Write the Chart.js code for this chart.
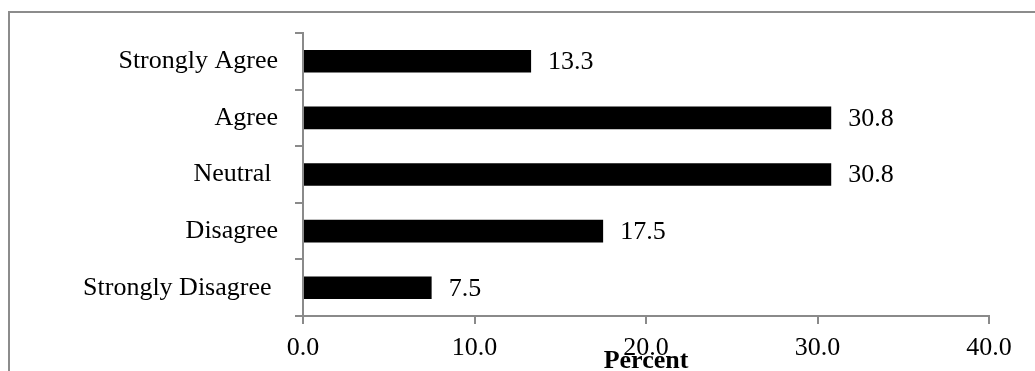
<!DOCTYPE html>
<html>
<head>
<meta charset="utf-8">
<script src="https://cdn.jsdelivr.net/npm/chart.js@4/dist/chart.umd.min.js"></script>
<style>
  html, body { margin: 0; padding: 0; background: #fff; overflow: hidden; }
  #frame {
    position: absolute; left: 8px; top: 11px; width: 1100px; height: 400px;
    border: 2px solid #8c8c8c;
  }
  #wrap { position: absolute; left: 0; top: 0; width: 1035px; height: 371px; }
</style>
</head>
<body>
<div id="frame"></div>
<div id="wrap"><canvas id="barChart"></canvas></div>
<script>
// responses, top to bottom as shown
const categories = ['Strongly Agree', 'Agree', 'Neutral ', 'Disagree', 'Strongly Disagree '];
const percents = [13.3, 30.8, 30.8, 17.5, 7.5];
const xTicks = [0, 10, 20, 30, 40];

const serif = '"Liberation Serif", "Times New Roman", serif';
const axisGray = '#8a8a8a';

// value labels to the right of each bar
const valueLabels = {
  id: 'valueLabels',
  afterDatasetsDraw(chart) {
    const ctx = chart.ctx;
    const meta = chart.getDatasetMeta(0);
    ctx.save();
    ctx.font = '26px ' + serif;
    ctx.fillStyle = '#000';
    ctx.textAlign = 'left';
    ctx.textBaseline = 'middle';
    meta.data.forEach((bar, i) => {
      ctx.fillText(percents[i].toFixed(1), bar.x + 17, bar.y + 1);
    });
    ctx.restore();
  },
};

new Chart(document.getElementById('barChart'), {
  type: 'bar',
  data: {
    labels: categories,
    datasets: [
      {
        label: 'Percent',
        data: percents,
        backgroundColor: '#000',
        borderWidth: 0,
        barPercentage: 0.4,
        categoryPercentage: 1.0,
      },
    ],
  },
  options: {
    indexAxis: 'y',
    responsive: true,
    maintainAspectRatio: false,
    animation: false,
    layout: {
      padding: { top: 33, right: 46, bottom: 0, left: 0 },
    },
    plugins: {
      legend: { display: false },
      tooltip: { enabled: false },
    },
    scales: {
      x: {
        min: 0,
        max: 40,
        afterBuildTicks: scale => {
          scale.ticks = xTicks.map(v => ({ value: v }));
        },
        afterFit: scale => { scale.height = 55; },
        border: { display: true, color: axisGray, width: 2 },
        grid: {
          drawOnChartArea: false,
          drawTicks: true,
          tickLength: 8,
          color: axisGray,
          lineWidth: 2,
        },
        ticks: {
          color: '#000',
          padding: 9,
          maxRotation: 0,
          font: { family: serif, size: 26 },
          callback: v => Number(v).toFixed(1),
        },
        title: {
          display: true,
          text: 'Percent',
          color: '#000',
          padding: { top: 0, bottom: 0 },
          font: { family: serif, size: 26, weight: 'bold', lineHeight: 0.75 },
        },
      },
      y: {
        afterFit: scale => { scale.width = 303; },
        border: { display: true, color: axisGray, width: 2 },
        grid: {
          drawOnChartArea: false,
          drawTicks: true,
          tickLength: 8,
          color: axisGray,
          lineWidth: 2,
        },
        ticks: {
          color: '#000',
          padding: 17,
          font: { family: serif, size: 26 },
        },
      },
    },
  },
  plugins: [valueLabels],
});
</script>
</body>
</html>
